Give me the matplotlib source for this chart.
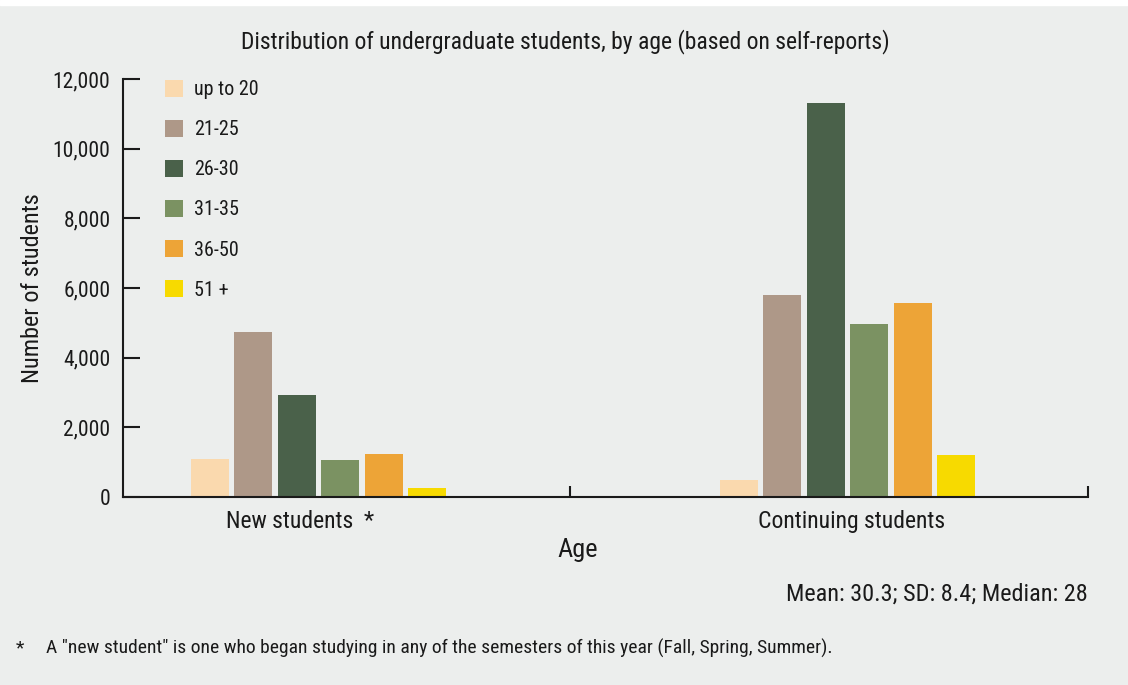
import matplotlib
matplotlib.use("Agg")
import matplotlib.pyplot as plt
from matplotlib.patches import Rectangle
import numpy as np

groups = ["New students  *", "Continuing students"]
age_bands = ["up to 20", "21-25", "26-30", "31-35", "36-50", "51 +"]
new_students = [1090, 4740, 2930, 1060, 1235, 260]
continuing_students = [490, 5800, 11310, 4970, 5570, 1210]
colors = ["#FAD9AE", "#AE9888", "#4A614A", "#7B9262", "#EDA437", "#F7DA00"]
yticks = [0, 2000, 4000, 6000, 8000, 10000, 12000]

plt.rcParams['font.family'] = ['Liberation Sans Narrow', 'DejaVu Sans Condensed', 'Roboto Condensed', 'Open Sans', 'DejaVu Sans']
BG = "#ECEEED"
TXT = "#1a1a1a"

W, H = 1128, 685
fig = plt.figure(figsize=(W/100, H/100), dpi=100, facecolor=BG)
fig.patches.append(Rectangle((0, 1 - 5/H), 1, 5/H, transform=fig.transFigure, color="white", zorder=-1))

left, right, bottom, top = 123, 1088, 497, 79
ax = fig.add_axes([left/W, 1 - bottom/H, (right-left)/W, (bottom-top)/H])
ax.set_facecolor(BG)

px_per_unit = 529.0
step = 43.4 / px_per_unit
width = 38.0 / px_per_unit
centers = np.array([0.0, 1.0])
data = np.array([new_students, continuing_students])
for i, (band, col) in enumerate(zip(age_bands, colors)):
    ax.bar(centers + (i - 2.5) * step, data[:, i], width=width, color=col, label=band, zorder=2)

ax.set_ylim(0, 12000)
ax.set_xlim((left - 318.5) / px_per_unit, (right - 318.5) / px_per_unit)
ax.set_yticks(yticks)
ax.set_yticklabels([f"{v:,}" for v in yticks])
mid = (570 - 318.5) / px_per_unit
ax.set_xticks([mid, (right - 318.5) / px_per_unit])
ax.set_xticklabels(["", ""])
ax.tick_params(axis='x', direction='in', length=8, width=1.5, color=TXT)
ax.tick_params(axis='y', direction='in', length=12, width=1.5, color=TXT, labelsize=15.5, labelcolor=TXT, pad=9)
for s in ["top", "right"]:
    ax.spines[s].set_visible(False)
for s in ["left", "bottom"]:
    ax.spines[s].set_linewidth(1.5)
    ax.spines[s].set_color(TXT)

# group labels
label_x = [(300 - 318.5) / px_per_unit, (851.5 - 318.5) / px_per_unit]
for lx, g in zip(label_x, groups):
    ax.text(lx, -0.058, g, transform=ax.get_xaxis_transform(), ha="center", va="center", fontsize=17, color=TXT)

ax.set_ylabel("Number of students", fontsize=17.5, color=TXT)
ax.yaxis.set_label_coords(-(123 - 44) / (right - left), 0.5)

fig.text(578 / W, 1 - 550 / H, "Age", ha="center", va="center", fontsize=19, color=TXT)
fig.text(565 / W, 1 - 42 / H, "Distribution of undergraduate students, by age (based on self-reports)",
         ha="center", va="center", fontsize=17, color=TXT)
fig.text(1088 / W, 1 - 594 / H, "Mean: 30.3; SD: 8.4; Median: 28", ha="right", va="center", fontsize=17.5, color=TXT)
fig.text(20 / W, 1 - 648 / H, "*", ha="center", va="center", fontsize=14, color=TXT)
fig.text(46 / W, 1 - 648 / H, 'A "new student" is one who began studying in any of the semesters of this year (Fall, Spring, Summer).',
         ha="left", va="center", fontsize=14, color=TXT)

leg = ax.legend(loc="upper left", bbox_to_anchor=((165 - left) / (right - left), 1 - 1 / (bottom - top)),
                frameon=False, fontsize=14.5, handlelength=0.9, handleheight=0.9, labelspacing=1.03,
                handletextpad=0.55, borderaxespad=0, borderpad=0)
for t in leg.get_texts():
    t.set_color(TXT)

fig.savefig("out.png", dpi=100, facecolor=BG)
